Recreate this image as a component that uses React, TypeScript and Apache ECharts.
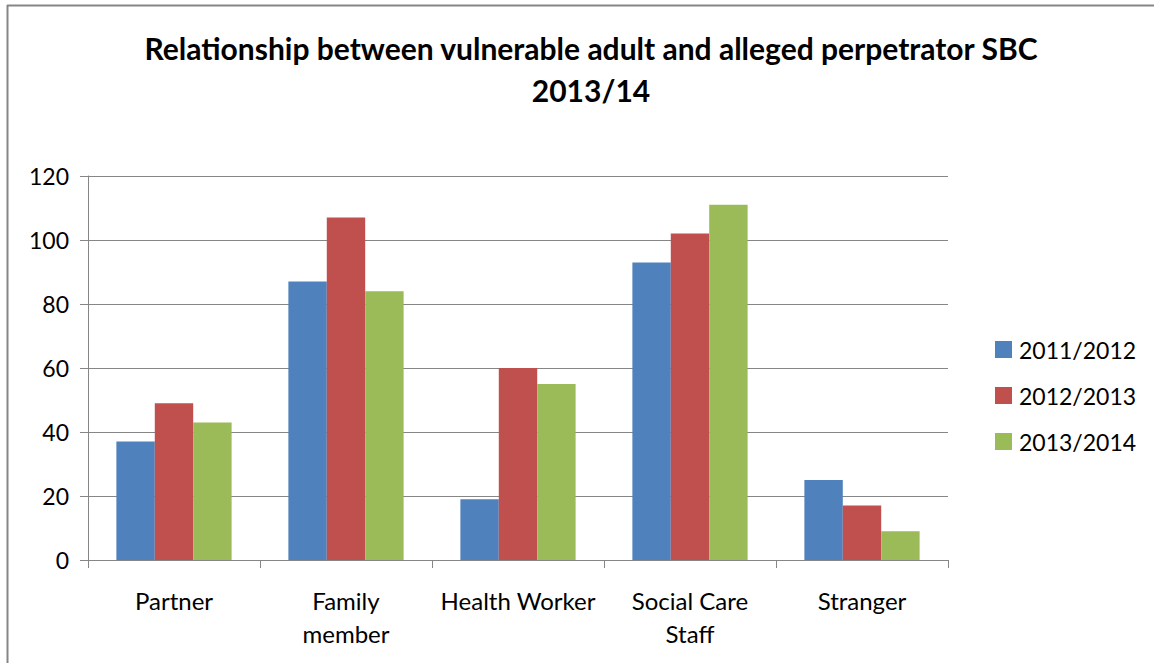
import React, { useEffect, useRef } from "react";
import * as echarts from "echarts";

const categories = ["Partner", "Family\nmember", "Health Worker", "Social Care\nStaff", "Stranger"];
const seriesNames = ["2011/2012", "2012/2013", "2013/2014"];
const values2011 = [37, 87, 19, 93, 25];
const values2012 = [49, 107, 60, 102, 17];
const values2013 = [43, 84, 55, 111, 9];
const colors = ["#4F81BD", "#C0504D", "#9BBB59"];

const FONT = "Lato, 'Noto Sans', sans-serif";

export default function App() {
  const ref = useRef<HTMLDivElement>(null);
  useEffect(() => {
    document.body.style.margin = "0";
    const chart = echarts.init(ref.current!, null, { renderer: "svg" });
    const data = [values2011, values2012, values2013];
    chart.setOption({
      animation: false,
      backgroundColor: "#ffffff",
      title: {
        text: "Relationship between vulnerable adult and alleged perpetrator SBC\n2013/14",
        left: 586,
        top: 22,
        textAlign: "center",
        textStyle: {
          fontFamily: FONT,
          fontWeight: "bold",
          fontSize: 30,
          lineHeight: 42,
          color: "#000",
        },
      },
      legend: {
        orient: "vertical",
        left: 990,
        top: 333,
        itemWidth: 17,
        itemHeight: 17,
        itemGap: 23,
        icon: "rect",
        textStyle: { fontFamily: FONT, fontSize: 23, color: "#000", padding: [0, 0, 0, 2] },
        data: seriesNames,
      },
      grid: { left: 88, top: 176, width: 860, height: 384, containLabel: false },
      xAxis: {
        type: "category",
        data: categories,
        axisLine: { lineStyle: { color: "#868686", width: 1 } },
        axisTick: { show: true, length: 8, lineStyle: { color: "#868686" }, alignWithLabel: false },
        axisLabel: {
          fontFamily: FONT,
          fontSize: 24,
          color: "#000",
          lineHeight: 33,
          margin: 24,
          interval: 0,
        },
      },
      yAxis: {
        type: "value",
        min: 0,
        max: 120,
        interval: 20,
        axisLine: { show: true, lineStyle: { color: "#868686" } },
        axisTick: { show: true, length: 8, lineStyle: { color: "#868686" } },
        splitLine: { lineStyle: { color: "#868686", width: 1 } },
        axisLabel: { fontFamily: FONT, fontSize: 23, color: "#000", margin: 19 },
      },
      series: data.map((d, i) => ({
        name: seriesNames[i],
        type: "bar",
        data: d,
        barGap: "0%",
        barCategoryGap: "33%",
        itemStyle: { color: colors[i] },
      })),
      graphic: [
        { type: "line", shape: { x1: 7, y1: 5.5, x2: 1154, y2: 5.5 }, style: { stroke: "#868686", lineWidth: 2 } },
        { type: "line", shape: { x1: 7.5, y1: 5, x2: 7.5, y2: 663 }, style: { stroke: "#868686", lineWidth: 2 } },
      ],
    });
    return () => chart.dispose();
  }, []);
  return <div ref={ref} style={{ width: 1154, height: 663 }} />;
}
